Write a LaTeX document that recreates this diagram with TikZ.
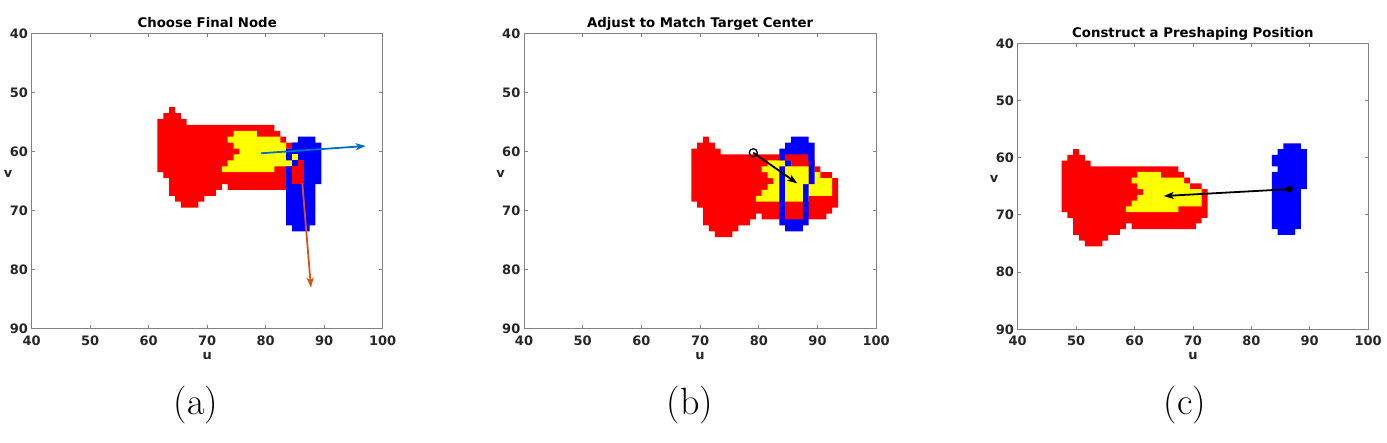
\documentclass[tikz,border=0pt]{standalone}
\usepackage{fontspec}
\newfontfamily\djv{DejaVu Sans}
\usetikzlibrary{arrows.meta}
\definecolor{txtgray}{RGB}{38,38,38}
\definecolor{axgray}{RGB}{130,130,130}
\definecolor{mblue}{RGB}{0,114,189}
\definecolor{morange}{RGB}{217,83,25}
\definecolor{pxred}{RGB}{255,0,0}
\definecolor{pxyel}{RGB}{255,255,0}
\definecolor{pxblue}{RGB}{0,0,255}

\def\objredpath{(47.5,60.5) -- (48.5,60.5) -- (48.5,59.5) -- (49.5,59.5) -- (49.5,58.5) -- (50.5,58.5) -- (50.5,59.5) -- (51.5,59.5) -- (51.5,60.5) -- (52.5,60.5) -- (52.5,61.5) -- (67.5,61.5) -- (67.5,62.5) -- (68.5,62.5) -- (68.5,63.5) -- (69.5,63.5) -- (69.5,64.5) -- (71.5,64.5) -- (71.5,65.5) -- (72.5,65.5) -- (72.5,70.5) -- (71.5,70.5) -- (71.5,71.5) -- (70.5,71.5) -- (70.5,72.5) -- (59.5,72.5) -- (59.5,71.5) -- (58.5,71.5) -- (58.5,72.5) -- (57.5,72.5) -- (57.5,73.5) -- (55.5,73.5) -- (55.5,74.5) -- (54.5,74.5) -- (54.5,75.5) -- (51.5,75.5) -- (51.5,74.5) -- (50.5,74.5) -- (50.5,73.5) -- (49.5,73.5) -- (49.5,70.5) -- (48.5,70.5) -- (48.5,69.5) -- (47.5,69.5) -- cycle}
\def\objyelpath{(60.5,62.5) -- (64.5,62.5) -- (64.5,63.5) -- (68.5,63.5) -- (68.5,64.5) -- (69.5,64.5) -- (69.5,65.5) -- (71.5,65.5) -- (71.5,68.5) -- (67.5,68.5) -- (67.5,69.5) -- (58.5,69.5) -- (58.5,68.5) -- (59.5,68.5) -- (59.5,67.5) -- (60.5,67.5) -- (60.5,66.5) -- (61.5,66.5) -- (61.5,65.5) -- (60.5,65.5) -- (60.5,64.5) -- (59.5,64.5) -- (59.5,63.5) -- (60.5,63.5) -- cycle}
\def\bluepath{(85.5,57.5) -- (88.5,57.5) -- (88.5,58.5) -- (89.5,58.5) -- (89.5,65.5) -- (88.5,65.5) -- (88.5,72.5) -- (87.5,72.5) -- (87.5,73.5) -- (84.5,73.5) -- (84.5,72.5) -- (83.5,72.5) -- (83.5,62.5) -- (84.5,62.5) -- (84.5,61.5) -- (83.5,61.5) -- (83.5,59.5) -- (84.5,59.5) -- (84.5,58.5) -- (85.5,58.5) -- cycle}
\def\innerpath{(84.5,58.5) -- (88.5,58.5) -- (88.5,65.5) -- (87.5,65.5) -- (87.5,72.5) -- (84.5,72.5) -- (84.5,62.5) -- (85.5,62.5) -- (85.5,61.5) -- (84.5,61.5) -- cycle}

\tikzset{
  axline/.style={draw=axgray, line width=0.8pt},
  ticklab/.style={font=\djv\bfseries\fontsize{13}{15}\selectfont, text=txtgray, inner sep=0pt},
  titlelab/.style={font=\djv\bfseries\fontsize{13.3}{15}\selectfont, text=black, inner sep=0pt, anchor=base},
  panellab/.style={font=\fontsize{38}{40}\selectfont, inner sep=0pt},
  quiv/.style={line width=1.8pt, -{Stealth[length=10pt,width=7pt,inset=2.5pt]}},
}

\newcommand\panelaxes[2]{%
  \draw[axline] (40,40) rectangle (100,90);
  \foreach \tk in {40,50,...,100}{
    \draw[axline] (\tk,90) -- ++(0,-0.6);
    \draw[axline] (\tk,40) -- ++(0,0.6);
    \node[ticklab, yshift=-11.5pt] (#1x\tk) at (\tk,90) {\tk};
  }
  \foreach \tk in {40,50,...,90}{
    \draw[axline] (40,\tk) -- ++(0.6,0);
    \draw[axline] (100,\tk) -- ++(-0.6,0);
    \node[ticklab, anchor=east, xshift=-3.5pt] (#1y\tk) at (40,\tk) {\tk};
  }
  \node[titlelab, yshift=5.5pt] (#1title) at (70,40) {#2};
  \node[ticklab, anchor=base, yshift=-30.5pt] (#1u) at (70,90) {u};
  \node[ticklab, xshift=-23.5pt, yshift=7pt] (#1v) at (40,65) {v};
}

\begin{document}
\begin{tikzpicture}[x=1pt,y=-1pt]
\fill[white] (0,0) rectangle (1387,443);
\useasboundingbox (0,0) rectangle (1387,443);

% ---------- panel (a)
\begin{scope}[shift={(31.7,33.3)}, x=5.85pt, y=-5.91pt, shift={(-40,-40)}]
  \begin{scope}[shift={(14,-6)}]
    \fill[pxred] \objredpath;
    \fill[pxyel] \objyelpath;
  \end{scope}
  \fill[pxblue] \bluepath;
  \fill[pxyel] (84.5,60.5) rectangle (85.5,61.5);
  \fill[pxred] (85.5,61.5) rectangle (86.5,65.5);
  \fill[pxred] (84.5,62.5) rectangle (85.5,65.5);
  \panelaxes{a}{Choose Final Node}
  \coordinate (bA0) at (79.2,60.3);
  \coordinate (bA1) at (97.1,59.07);
  \draw[quiv, mblue] (bA0) -- (bA1);
  \coordinate (oA0) at (86.26,65.4);
  \coordinate (oA1) at (87.74,83.04);
  \draw[quiv, morange] (oA0) -- (oA1);
\end{scope}

% ---------- panel (b)
\begin{scope}[shift={(524,33.3)}, x=5.87pt, y=-5.91pt, shift={(-40,-40)}]
  \begin{scope}[shift={(21,-1)}]
    \fill[pxred] \objredpath;
    \fill[pxyel] \objyelpath;
  \end{scope}
  \fill[pxblue] \bluepath;
  \begin{scope}
    \clip \innerpath;
    \begin{scope}[shift={(21,-1)}]
      \fill[pxred] \objredpath;
      \fill[pxyel] \objyelpath;
    \end{scope}
  \end{scope}
  \panelaxes{b}{Adjust to Match Target Center}
  \node[circle, draw=black, line width=1.3pt, minimum size=8pt, inner sep=0pt] (cB) at (79.06,60.2) {};
  \coordinate (eB) at (86.56,65.4);
  \draw[quiv, black] (cB.center) -- (eB);
\end{scope}

% ---------- panel (c)
\begin{scope}[shift={(1017.7,43.3)}, x=5.84pt, y=-5.72pt, shift={(-40,-40)}]
  \fill[pxred] \objredpath;
  \fill[pxyel] \objyelpath;
  \fill[pxblue] \bluepath;
  \panelaxes{c}{Construct a Preshaping Position}
  \node[circle, fill=black, minimum size=7pt, inner sep=0pt] (dC) at (86.5,65.5) {};
  \coordinate (eC) at (65.0,66.7);
  \draw[quiv, black] (dC.center) -- (eC);
\end{scope}

\node[panellab] (labA) at (196,405) {(a)};
\node[panellab] (labB) at (690,405) {(b)};
\node[panellab] (labC) at (1185,405) {(c)};
\end{tikzpicture}
\end{document}
